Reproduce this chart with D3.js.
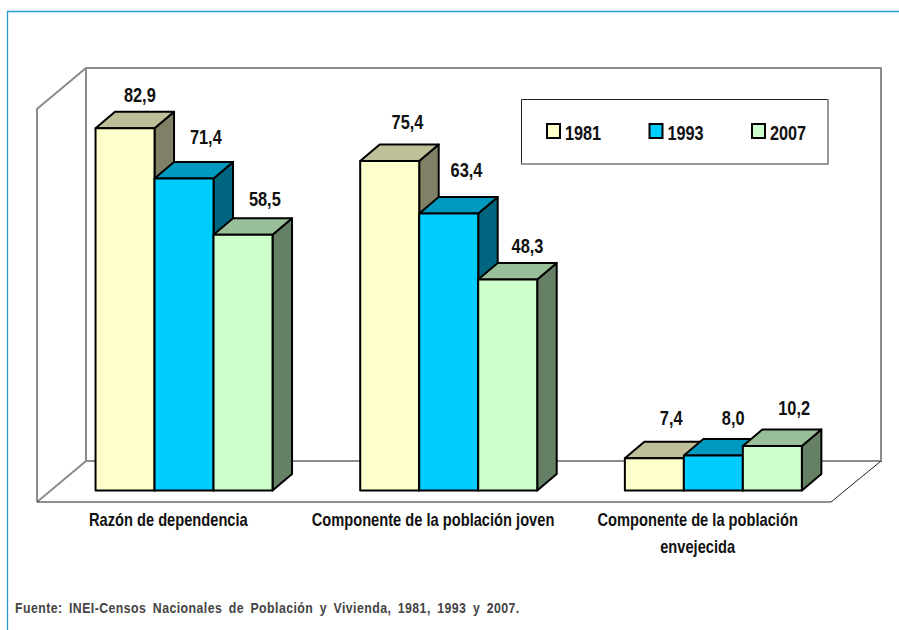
<!DOCTYPE html>
<html>
<head>
<meta charset="utf-8">
<script src="https://cdn.jsdelivr.net/npm/d3@7"></script>
<style>
  html, body { margin: 0; padding: 0; background: #fff; }
  svg { display: block; }
  text { font-family: "Liberation Sans", sans-serif; font-weight: bold; fill: #111; }
</style>
</head>
<body>
<script>
(function () {
  'use strict';

  const categories = [
    ['Razón de dependencia'],
    ['Componente de la población joven'],
    ['Componente de la población', 'envejecida']
  ];
  const seriesNames = ['1981', '1993', '2007'];
  const values1981 = [82.9, 75.4, 7.4];
  const values1993 = [71.4, 63.4, 8.0];
  const values2007 = [58.5, 48.3, 10.2];
  const seriesValues = [values1981, values1993, values2007];
  const fronts = ['#ffffcc', '#00ccff', '#ccffcc'];
  const source = 'Fuente: INEI-Censos Nacionales de Población y Vivienda, 1981, 1993 y 2007.';

  const width = 899,
    height = 630;

  // the labels were placed by hand in the original, so they need nudging [dx, dy] per bar
  const labelNudge = [
    [[14.5, -26], [21.5, -34], [21.5, -29]],
    [[17.5, -32], [17.5, -36], [19.5, -26]],
    [[16.5, -33], [19.5, -31], [21.5, -31]]
  ];

  const depthX = 19.5,
    depthY = 16.5;

  const svg = d3.select('body')
    .append('svg')
    .attr('width', width)
    .attr('height', height);

  const x0 = d3.scaleBand().domain(d3.range(categories.length)).range([52, 846]);
  const x1 = d3.scaleBand().domain(d3.range(seriesNames.length)).range([0, 177]);
  const y = d3.scaleLinear().domain([0, 90]).range([490.5, 97.2]);

  // no narrow font installed, so squeeze the text horizontally
  function narrow(parent, str, px, py, size, sx, anchor) {
    return parent.append('text')
      .attr('transform', 'translate(' + px + ',' + py + ') scale(' + sx + ',1)')
      .attr('text-anchor', anchor || 'middle')
      .attr('font-size', size + 'px')
      .text(str);
  }

  // outer frame, only top and left show
  svg.append('path')
    .attr('d', 'M7.5,630V11.5H899')
    .attr('fill', 'none')
    .attr('stroke', '#2a9bd0')
    .attr('stroke-width', 1.3);

  // walls
  const wall = svg.append('g').attr('fill', 'none');
  wall.append('path')
    .attr('d', 'M37,502V109L86,68H881V461H86M86,68V461L37,502')
    .attr('stroke', '#8c8c8c')
    .attr('stroke-width', 2);
  wall.append('path')
    .attr('d', 'M37,502H831L881,461')
    .attr('stroke', '#222')
    .attr('stroke-width', 1);

  // bars
  const shade = (c, k) => {
    const o = d3.rgb(c);
    return d3.rgb(o.r * k, o.g * k, o.b * k).formatHex();
  };

  const groups = svg.selectAll('g.group')
    .data(categories)
    .enter()
    .append('g')
    .attr('class', 'group');

  groups.each(function (cat, c) {
    const g = d3.select(this);
    seriesNames.forEach(function (name, s) {
      const left = x0(c) + x0.bandwidth() / 2 - 88.5 + x1(s) - 0.3,
        right = left + x1.bandwidth(),
        top = y(seriesValues[s][c]),
        base = y(0);
      const bar = g.append('g')
        .attr('stroke', '#000')
        .attr('stroke-width', 2)
        .attr('stroke-linejoin', 'round');
      bar.append('path')
        .attr('fill', shade(fronts[s], 0.5))
        .attr('d', d3.line()([[right, top], [right + depthX, top - depthY], [right + depthX, base - depthY], [right, base]]) + 'Z');
      bar.append('path')
        .attr('fill', shade(fronts[s], 0.75))
        .attr('d', d3.line()([[left, top], [left + depthX, top - depthY], [right + depthX, top - depthY], [right, top]]) + 'Z');
      bar.append('rect')
        .attr('fill', fronts[s])
        .attr('x', left)
        .attr('y', top)
        .attr('width', right - left)
        .attr('height', base - top);
    });
  });

  // value labels, on top of everything
  categories.forEach(function (cat, c) {
    seriesNames.forEach(function (name, s) {
      const v = seriesValues[s][c];
      narrow(svg, v.toFixed(1).replace('.', ','),
        x0(c) + x0.bandwidth() / 2 - 88.5 + x1(s) + x1.bandwidth() / 2 + labelNudge[c][s][0],
        y(v) + labelNudge[c][s][1], 21, 0.78);
    });
  });

  // category labels
  categories.forEach(function (lines, c) {
    lines.forEach(function (line, i) {
      narrow(svg, line, x0(c) + x0.bandwidth() / 2 - 16, 525.5 + i * 27, 18, 0.815);
    });
  });

  // legend
  const legend = svg.append('g');
  legend.append('path')
    .attr('d', 'M521.5,164V99.5H828').attr('fill', 'none').attr('stroke', '#222').attr('stroke-width', 1);
  legend.append('path')
    .attr('d', 'M521,164H828V99').attr('fill', 'none').attr('stroke', '#777').attr('stroke-width', 1.5);
  const legendX = d3.scalePoint().domain(seriesNames).range([547, 752]);
  seriesNames.forEach(function (name, s) {
    legend.append('rect')
      .attr('x', legendX(name))
      .attr('y', 124)
      .attr('width', 13)
      .attr('height', 14)
      .attr('fill', fronts[s])
      .attr('stroke', '#000')
      .attr('stroke-width', 2);
    narrow(legend, name, legendX(name) + 18, 139.5, 21, 0.775, 'start');
  });

  narrow(svg, source, 15, 612.5, 14, 0.88, 'start')
    .attr('word-spacing', '3px')
    .attr('letter-spacing', '0.5px')
    .style('fill', '#444');
})();
</script>
</body>
</html>
